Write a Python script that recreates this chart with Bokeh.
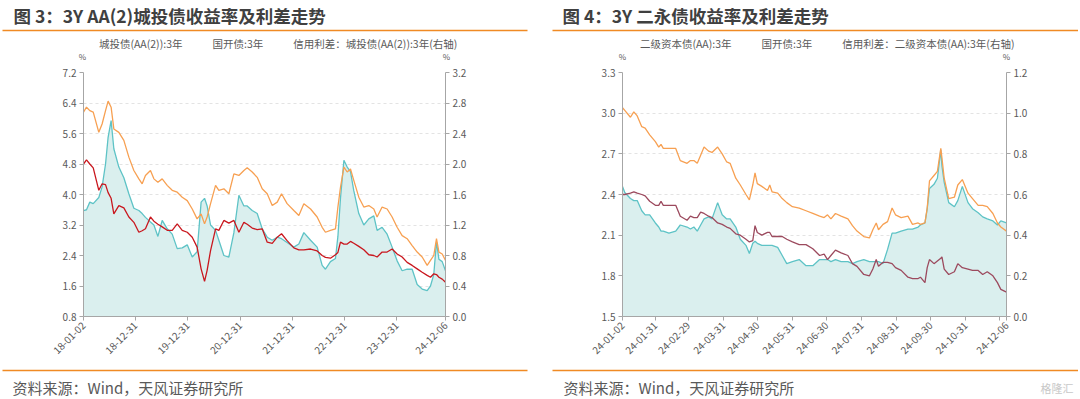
import math
import pandas as pd
from bokeh.plotting import figure
from bokeh.models import (Range1d, LinearAxis, FixedTicker, DatetimeTickFormatter, Legend,
                          LegendItem, Label, ColumnDataSource, NumeralTickFormatter)
from bokeh.layouts import row, column
from bokeh.embed import file_html
from bokeh.resources import INLINE

FONT = "Noto Sans CJK SC"

# ---------------- Chart 3 data ----------------
l_dates = ["2018-01-02", "2018-01-23", "2018-02-15", "2018-03-11", "2018-04-19", "2018-05-12", "2018-06-05",
           "2018-06-23", "2018-07-14", "2018-08-02", "2018-09-06", "2018-10-11", "2018-11-15", "2018-12-20",
           "2019-01-24", "2019-02-16", "2019-03-11", "2019-04-15", "2019-05-09", "2019-06-06", "2019-07-06",
           "2019-08-10", "2019-09-14", "2019-10-19", "2019-11-23", "2019-12-28", "2020-02-01", "2020-03-06",
           "2020-04-03", "2020-04-27", "2020-05-15", "2020-06-08", "2020-07-13", "2020-08-05", "2020-09-09",
           "2020-10-14", "2020-11-18", "2020-12-23", "2021-01-27", "2021-02-19", "2021-03-26", "2021-04-30",
           "2021-06-04", "2021-07-09", "2021-08-13", "2021-09-17", "2021-10-17", "2021-11-25", "2022-01-11",
           "2022-02-15", "2022-03-22", "2022-05-08", "2022-06-23", "2022-07-28", "2022-08-20", "2022-09-24",
           "2022-10-29", "2022-11-15", "2022-12-03", "2022-12-27", "2023-01-19", "2023-02-11", "2023-03-06",
           "2023-04-10", "2023-05-15", "2023-06-19", "2023-07-24", "2023-08-16", "2023-09-20", "2023-10-25",
           "2023-11-29", "2024-01-03", "2024-02-07", "2024-03-13", "2024-04-17", "2024-05-22", "2024-06-26",
           "2024-07-31", "2024-08-23", "2024-09-15", "2024-10-04", "2024-10-21", "2024-11-13", "2024-12-06"]
l_ctb = [6.16, 6.29, 6.20, 6.16, 5.63, 5.85, 6.20, 6.45, 6.29, 5.72, 5.63, 5.42, 4.98, 4.63,
         4.41, 4.28, 4.50, 4.63, 4.41, 4.32, 4.41, 4.24, 4.11, 4.06, 3.93, 3.84, 3.62, 3.36,
         3.49, 3.23, 3.41, 3.76, 4.24, 4.11, 4.15, 4.02, 4.54, 4.50, 4.63, 4.70, 4.59, 4.45,
         4.15, 4.02, 3.71, 3.80, 4.02, 3.76, 3.58, 3.45, 3.76, 3.62, 3.41, 3.14, 3.01, 3.06,
         3.10, 3.67, 4.19, 4.72, 4.59, 4.67, 4.37, 3.93, 3.67, 3.71, 3.62, 3.41, 3.67, 3.62,
         3.41, 3.14, 2.92, 2.84, 2.66, 2.49, 2.36, 2.14, 2.27, 2.40, 2.84, 2.49, 2.44, 2.27]
l_gkz = [4.80, 4.91, 4.80, 4.70, 4.11, 4.28, 4.26, 4.05, 3.90, 3.49, 3.71, 3.65, 3.41, 3.27,
         3.01, 3.05, 3.10, 3.41, 3.30, 3.22, 3.15, 3.06, 3.06, 3.23, 3.06, 3.01, 2.88, 2.62,
         2.05, 1.72, 2.01, 2.53, 3.10, 3.06, 3.32, 3.25, 3.32, 3.01, 3.27, 3.22, 3.12, 3.08,
         3.10, 2.75, 2.72, 2.88, 2.97, 2.79, 2.60, 2.55, 2.55, 2.57, 2.52, 2.40, 2.35, 2.33,
         2.42, 2.48, 2.75, 2.70, 2.70, 2.77, 2.72, 2.64, 2.55, 2.42, 2.40, 2.36, 2.49, 2.49,
         2.57, 2.44, 2.36, 2.22, 2.14, 2.05, 1.96, 1.88, 1.83, 1.92, 1.90, 1.83, 1.78, 1.70]
l_spread = [1.39, 1.40, 1.50, 1.48, 1.56, 1.70, 2.00, 2.35, 2.57, 2.20, 1.96, 1.82, 1.61, 1.42,
            1.39, 1.35, 1.30, 1.24, 1.20, 1.05, 1.26, 1.15, 1.08, 0.89, 0.90, 0.94, 0.78, 0.85,
            1.50, 1.55, 1.45, 1.20, 1.13, 1.00, 0.80, 0.78, 1.10, 1.59, 1.45, 1.45, 1.39, 1.35,
            1.15, 1.04, 1.00, 1.04, 1.02, 0.97, 0.91, 0.95, 1.10, 1.00, 0.91, 0.67, 0.62, 0.72,
            0.76, 1.05, 1.55, 2.05, 1.96, 1.90, 1.65, 1.35, 1.20, 1.28, 1.32, 1.13, 1.17, 1.08,
            0.91, 0.73, 0.60, 0.62, 0.62, 0.42, 0.36, 0.34, 0.40, 0.55, 0.98, 0.75, 0.72, 0.60]
l_xticks = ["2018-01-02", "2018-12-31", "2019-12-31", "2020-12-31", "2021-12-31", "2022-12-31",
            "2023-12-31", "2024-12-06"]
l_yticks = [0.8, 1.6, 2.4, 3.2, 4.0, 4.8, 5.6, 6.4, 7.2]
l_y2ticks = [0.0, 0.4, 0.8, 1.2, 1.6, 2.0, 2.4, 2.8, 3.2]
l_names = ["城投债(AA(2)):3年", "国开债:3年", "信用利差：城投债(AA(2)):3年(右轴)"]
l_title = "图 3：3Y AA(2)城投债收益率及利差走势"

# ---------------- Chart 4 data ----------------
r_dates = ["2024-01-02", "2024-01-04", "2024-01-09", "2024-01-12", "2024-01-15", "2024-01-19", "2024-01-22",
           "2024-01-26", "2024-01-31", "2024-02-03", "2024-02-05", "2024-02-07", "2024-02-12", "2024-02-18",
           "2024-02-22", "2024-02-28", "2024-03-02", "2024-03-05", "2024-03-08", "2024-03-11", "2024-03-14",
           "2024-03-18", "2024-03-21", "2024-03-26", "2024-03-30", "2024-04-03", "2024-04-06", "2024-04-11",
           "2024-04-15", "2024-04-20", "2024-04-23", "2024-04-26", "2024-04-28", "2024-04-30", "2024-05-04",
           "2024-05-09", "2024-05-11", "2024-05-13", "2024-05-18", "2024-05-22", "2024-05-26", "2024-05-31",
           "2024-06-06", "2024-06-12", "2024-06-18", "2024-06-24", "2024-06-28", "2024-07-01", "2024-07-04",
           "2024-07-08", "2024-07-13", "2024-07-19", "2024-07-23", "2024-07-27", "2024-08-02", "2024-08-07",
           "2024-08-10", "2024-08-13", "2024-08-15", "2024-08-19", "2024-08-23", "2024-08-27", "2024-08-30",
           "2024-09-04", "2024-09-10", "2024-09-14", "2024-09-19", "2024-09-21", "2024-09-25", "2024-09-27",
           "2024-09-29", "2024-10-03", "2024-10-06", "2024-10-09", "2024-10-10", "2024-10-12", "2024-10-16",
           "2024-10-21", "2024-10-24", "2024-10-28", "2024-11-02", "2024-11-06", "2024-11-11", "2024-11-15",
           "2024-11-19", "2024-11-24", "2024-11-28", "2024-12-01", "2024-12-06"]
r_ejzb = [3.04, 3.02, 2.97, 3.01, 2.98, 2.90, 2.89, 2.84, 2.79, 2.75, 2.77, 2.74, 2.74, 2.74,
          2.65, 2.63, 2.65, 2.65, 2.63, 2.69, 2.75, 2.72, 2.71, 2.75, 2.70, 2.64, 2.63, 2.52,
          2.47, 2.40, 2.36, 2.47, 2.56, 2.48, 2.46, 2.43, 2.47, 2.42, 2.41, 2.37, 2.34, 2.31,
          2.30, 2.28, 2.26, 2.24, 2.23, 2.25, 2.22, 2.26, 2.24, 2.22, 2.17, 2.13, 2.09, 2.08,
          2.14, 2.19, 2.14, 2.18, 2.20, 2.30, 2.25, 2.23, 2.24, 2.18, 2.19, 2.18, 2.19, 2.30,
          2.50, 2.54, 2.57, 2.74, 2.67, 2.52, 2.37, 2.38, 2.47, 2.51, 2.41, 2.37, 2.32, 2.32,
          2.31, 2.26, 2.19, 2.16, 2.13]
r_gkz = [2.40, 2.40, 2.41, 2.42, 2.41, 2.40, 2.39, 2.35, 2.32, 2.32, 2.35, 2.32, 2.32, 2.32,
         2.24, 2.21, 2.24, 2.23, 2.23, 2.27, 2.26, 2.24, 2.23, 2.19, 2.18, 2.16, 2.15, 2.11,
         2.10, 2.07, 2.05, 2.06, 2.17, 2.12, 2.10, 2.12, 2.12, 2.09, 2.09, 2.09, 2.07, 2.05,
         2.03, 2.03, 2.00, 1.95, 1.96, 1.92, 1.95, 1.99, 1.97, 1.95, 1.89, 1.87, 1.81, 1.80,
         1.85, 1.92, 1.87, 1.90, 1.90, 1.89, 1.86, 1.84, 1.79, 1.78, 1.78, 1.79, 1.75, 1.86,
         1.92, 1.89, 1.91, 1.93, 1.94, 1.85, 1.81, 1.83, 1.89, 1.86, 1.85, 1.84, 1.84, 1.81,
         1.83, 1.80, 1.75, 1.70, 1.68]
r_spread = [0.64, 0.61, 0.58, 0.57, 0.57, 0.52, 0.50, 0.50, 0.46, 0.44, 0.42, 0.42, 0.41, 0.42,
            0.45, 0.44, 0.43, 0.44, 0.42, 0.45, 0.48, 0.49, 0.48, 0.56, 0.50, 0.48, 0.48, 0.44,
            0.38, 0.35, 0.31, 0.36, 0.37, 0.36, 0.35, 0.35, 0.35, 0.35, 0.34, 0.30, 0.26, 0.27,
            0.28, 0.25, 0.25, 0.28, 0.28, 0.28, 0.27, 0.28, 0.27, 0.27, 0.26, 0.27, 0.28, 0.27,
            0.27, 0.27, 0.27, 0.26, 0.33, 0.41, 0.41, 0.42, 0.43, 0.43, 0.44, 0.45, 0.46, 0.53,
            0.63, 0.65, 0.68, 0.82, 0.74, 0.66, 0.56, 0.54, 0.57, 0.64, 0.56, 0.53, 0.51, 0.49,
            0.48, 0.47, 0.45, 0.47, 0.46]
r_xticks = ["2024-01-02", "2024-01-31", "2024-02-29", "2024-03-31", "2024-04-30", "2024-05-31",
            "2024-06-30", "2024-07-31", "2024-08-31", "2024-09-30", "2024-10-31", "2024-11-30", "2024-12-06"]
r_hidden_ticks = ["2024-11-30"]
r_yticks = [1.5, 1.8, 2.1, 2.4, 2.7, 3.0, 3.3]
r_y2ticks = [0.0, 0.2, 0.4, 0.6, 0.8, 1.0, 1.2]
r_names = ["二级资本债(AA):3年", "国开债:3年", "信用利差：二级资本债(AA):3年(右轴)"]
r_title = "图 4：3Y 二永债收益率及利差走势"

source_text = "资料来源：Wind，天风证券研究所"

HEAD_H, MAIN_H, FOOT_H = 64, 302, 31
ORANGE_RULE = "#F08A24"
TXT = "#595959"
AXIS = "#A6A6A6"
C_ORANGE = "#F7A052"
C_TEAL = "#5EC3C6"
C_FILL = "#DAEFEE"
C_RED = "#C9171E"
C_PURPLE = "#9C4A5E"


def ms(dates):
    return [int(v) for v in (pd.to_datetime(dates).astype("int64") // 10**6)]


def blank(width, height):
    p = figure(width=width, height=height, x_range=Range1d(0, width), y_range=Range1d(height, 0),
               output_backend="svg", toolbar_location=None, tools="",
               x_axis_location=None, y_axis_location=None, min_border=0)
    p.outline_line_color = None
    p.grid.visible = False
    p.background_fill_color = "white"
    p.border_fill_color = "white"
    return p


def text(p, x, y, s, size, color, bold=False, align="left"):
    p.add_layout(Label(x=x, y=y, text=s, text_font=FONT, text_font_size=size, text_color=color,
                       text_font_style="bold" if bold else "normal", text_align=align,
                       text_baseline="middle"))


def rule(p, x0, x1, y):
    p.quad(left=[x0], right=[x1], top=[y - 0.8], bottom=[y + 0.8], fill_color=ORANGE_RULE,
           line_color=None)


def style_axis(ax):
    ax.axis_line_color = AXIS
    ax.major_tick_line_color = AXIS
    ax.minor_tick_line_color = None
    ax.major_tick_out = 4
    ax.major_tick_in = 0
    ax.major_label_text_font = FONT
    ax.major_label_text_font_size = "10px"
    ax.major_label_text_color = TXT
    ax.major_label_standoff = 3


def header(width, title, title_x, rule_x, names, c2, pct_x, leg_x):
    p = blank(width, HEAD_H)
    text(p, title_x, 15, title, "17.5px", "#404040", bold=True)
    rule(p, rule_x[0], rule_x[1], 30)
    for x in pct_x:
        text(p, x, 56, "%", "8px", TXT, align="center")
    empty = ColumnDataSource(dict(x=[], y=[]))
    g1 = p.line("x", "y", source=empty, line_color=C_ORANGE, line_width=2.5)
    g2 = p.line("x", "y", source=empty, line_color=c2, line_width=2.5)
    g3 = p.line("x", "y", source=empty, line_color=C_TEAL, line_width=2.5)
    leg = Legend(items=[LegendItem(label=names[0], renderers=[g1]),
                        LegendItem(label=names[1], renderers=[g2]),
                        LegendItem(label=names[2], renderers=[g3])],
                 orientation="horizontal", location=(leg_x, 13),
                 label_text_font=FONT, label_text_font_size="10.5px", label_text_color=TXT,
                 glyph_width=12, glyph_height=8, label_standoff=4, spacing=14,
                 padding=0, margin=0, border_line_color=None, background_fill_alpha=0,
                 label_height=10)
    p.add_layout(leg, "center")
    return p


def footer(width, text_x, rule_x):
    p = blank(width, FOOT_H)
    rule(p, rule_x[0], rule_x[1], 4)
    text(p, text_x, 21, source_text, "15px", TXT)
    return p


def main(width, mb_left, mb_right, dates, s1, s2, s3, c2, yr, yticks, y2r, y2ticks, xticks, hidden):
    d = pd.to_datetime(dates)
    src = ColumnDataSource(dict(date=d, a=s1, b=s2, s=s3, zero=[0.0] * len(s3)))
    p = figure(width=width, height=MAIN_H, x_axis_type="datetime", output_backend="svg",
               toolbar_location=None, tools="",
               x_range=Range1d(pd.Timestamp(xticks[0]), pd.Timestamp(xticks[-1])),
               y_range=Range1d(*yr), min_border_left=mb_left, min_border_right=mb_right,
               min_border_top=8, min_border_bottom=50)
    p.outline_line_color = None
    p.background_fill_color = "white"
    p.border_fill_color = "white"
    p.extra_y_ranges = {"right": Range1d(*y2r)}

    p.xgrid.visible = False
    p.ygrid.grid_line_color = "#E3E3E3"
    p.ygrid.grid_line_dash = "3 3"
    p.ygrid.ticker = FixedTicker(ticks=yticks)

    p.yaxis.ticker = FixedTicker(ticks=yticks)
    p.yaxis.formatter = NumeralTickFormatter(format="0.0")
    style_axis(p.yaxis[0])

    ax2 = LinearAxis(y_range_name="right", ticker=FixedTicker(ticks=y2ticks),
                     formatter=NumeralTickFormatter(format="0.0"))
    style_axis(ax2)
    p.add_layout(ax2, "right")

    xa = p.xaxis[0]
    xa.ticker = FixedTicker(ticks=ms(xticks))
    fmt = "%y-%m-%d"
    xa.formatter = DatetimeTickFormatter(days=fmt, months=fmt, years=fmt, hours=fmt,
                                         hourmin=fmt, minutes=fmt, context=None)
    xa.major_label_overrides = {t: "" for t in ms(hidden)}
    xa.major_label_orientation = math.pi / 4
    style_axis(xa)

    p.varea(x="date", y1="zero", y2="s", source=src, y_range_name="right",
            fill_color=C_FILL, fill_alpha=1)
    p.line("date", "s", source=src, y_range_name="right", line_color=C_TEAL, line_width=1.3)
    p.line("date", "a", source=src, line_color=C_ORANGE, line_width=1.3)
    p.line("date", "b", source=src, line_color=c2, line_width=1.3)
    return p


LW, RW = 540, 538
h1 = header(LW, l_title, 13, (2, 527), l_names, C_RED, (82, 446), 83)
m1 = main(LW, 83, 95, l_dates, l_ctb, l_gkz, l_spread, C_RED, (0.8, 7.2), l_yticks,
          (0.0, 3.2), l_y2ticks, l_xticks, [])
f1 = footer(LW, 12, (2, 527))

h2 = header(RW, r_title, 22, (12, RW), r_names, C_PURPLE, (82, 466), 84)
m2 = main(RW, 82, 72, r_dates, r_ejzb, r_gkz, r_spread, C_PURPLE, (1.5, 3.3), r_yticks,
          (0.0, 1.2), r_y2ticks, r_xticks, r_hidden_ticks)
f2 = footer(RW, 23, (12, RW))
text(f2, 500, 21, "格隆汇", "11px", "#C8C8C8")

layout = column(row(h1, h2), row(m1, m2), row(f1, f2))
open("out.html", "w").write(file_html(layout, INLINE))
